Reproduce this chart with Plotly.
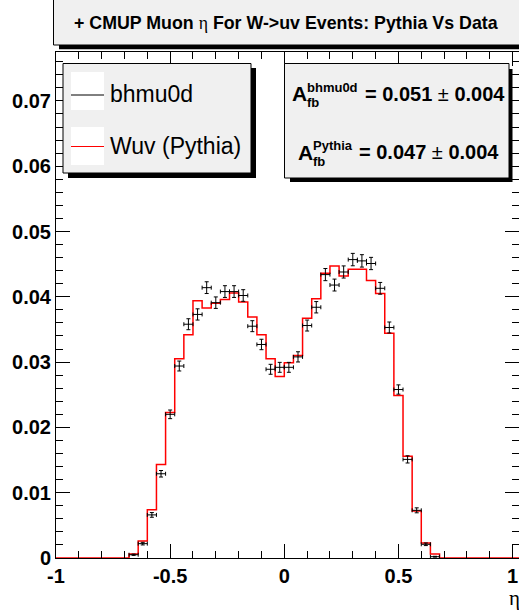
import plotly.graph_objects as go

# Muon eta bins (width 0.04), only the populated region is listed
eta_centers = [-0.66, -0.62, -0.58, -0.54, -0.50, -0.46, -0.42, -0.38, -0.34, -0.30,
               -0.26, -0.22, -0.18, -0.14, -0.10, -0.06, -0.02, 0.02, 0.06, 0.10,
               0.14, 0.18, 0.22, 0.26, 0.30, 0.34, 0.38, 0.42, 0.46, 0.50,
               0.54, 0.58, 0.62, 0.66]
bin_width = 0.04

# Data (bhmu0d), normalised
data_vals = [0.0005, 0.0022, 0.0066, 0.0129, 0.0220, 0.0294, 0.0358, 0.0373, 0.0414, 0.0391,
             0.0408, 0.0408, 0.0402, 0.0355, 0.0327, 0.0289, 0.0292, 0.0292, 0.0308, 0.0356,
             0.0384, 0.0434, 0.0418, 0.0438, 0.0457, 0.0455, 0.0451, 0.0413, 0.0353, 0.0258,
             0.0151, 0.0073, 0.0021, 0.0002]
data_errs = [0.00010, 0.00020, 0.00036, 0.00050, 0.00066, 0.00076, 0.00084, 0.00086, 0.00090, 0.00088,
             0.00090, 0.00090, 0.00089, 0.00084, 0.00080, 0.00076, 0.00076, 0.00076, 0.00078, 0.00084,
             0.00087, 0.00093, 0.00091, 0.00093, 0.00095, 0.00095, 0.00094, 0.00090, 0.00084, 0.00071,
             0.00055, 0.00038, 0.00020, 0.00006]

# W -> mu nu Pythia MC, normalised
mc_vals = [0.0006, 0.0026, 0.0074, 0.0143, 0.0223, 0.0305, 0.0342, 0.0394, 0.0383, 0.0390,
           0.0396, 0.0406, 0.0392, 0.0369, 0.0342, 0.0305, 0.0278, 0.0299, 0.0310, 0.0367,
           0.0397, 0.0436, 0.0447, 0.0432, 0.0442, 0.0442, 0.0425, 0.0405, 0.0344, 0.0249,
           0.0156, 0.0072, 0.0023, 0.0006]

x_ticks = [-1, -0.5, 0, 0.5, 1]
x_ticklabels = ["-1", "-0.5", "0", "0.5", "1"]
y_ticks = [0, 0.01, 0.02, 0.03, 0.04, 0.05, 0.06, 0.07]
y_ticklabels = ["0", "0.01", "0.02", "0.03", "0.04", "0.05", "0.06", "0.07"]

title_text = ("<b>+ CMUP Muon </b><span style=\"font-family:'Liberation Serif'\">\u03b7</span>"
              "<b> For W-&gt;uv Events: Pythia Vs Data</b>")
legend_labels = ["bhmu0d", "Wuv (Pythia)"]
afb_rows = [("bhmu0d", "0.051", "0.004"), ("Pythia", "0.047", "0.004")]

MC_COLOR = "#ff0000"
DATA_COLOR = "#000000"
PANEL = "#f0f0f0"
FONT = "Liberation Sans"

W, H = 519, 611
ML, MR, MT, MB = 56, 0, 52, 53
PW, PH = W - ML - MR, H - MT - MB
X_MIN = -1.0
X_PER_UNIT = 228.3
Y_PER_UNIT = 6530.0
x_range = [X_MIN, X_MIN + PW / X_PER_UNIT]
y_range = [0, PH / Y_PER_UNIT]


def px(x):
    return (x - ML) / PW


def py(y):
    return (H - MB - y) / PH


# Step outline for the MC histogram, extended with empty bins across the axis
step_x = [X_MIN] + [c - bin_width / 2 for c in eta_centers] + [eta_centers[-1] + bin_width / 2, 1.04]
step_y = [0] + mc_vals + [0, 0]

fig = go.Figure()
fig.add_trace(go.Scatter(
    x=step_x, y=step_y, mode="lines", line=dict(color=MC_COLOR, width=1.5, shape="hv"),
    name=legend_labels[1], showlegend=False, hoverinfo="skip"))
fig.add_trace(go.Scatter(
    x=eta_centers, y=data_vals, mode="markers",
    marker=dict(color=DATA_COLOR, size=1),
    error_y=dict(type="data", array=data_errs, color=DATA_COLOR, thickness=1, width=2),
    error_x=dict(type="constant", value=bin_width / 2, color=DATA_COLOR, thickness=1, width=2),
    name=legend_labels[0], showlegend=False))
# Empty trace so the right-hand tick axis gets drawn
fig.add_trace(go.Scatter(x=[], y=[], yaxis="y2", showlegend=False, hoverinfo="skip"))

shapes = []
annotations = []

# Title pave with shadow
shapes.append(dict(type="rect", xref="paper", yref="paper", x0=px(59), x1=px(530), y0=py(49.3), y1=py(40),
                   fillcolor="black", line=dict(width=0), layer="above"))
shapes.append(dict(type="rect", xref="paper", yref="paper", x0=px(53.5), x1=px(530), y0=py(45), y1=py(-2),
                   fillcolor=PANEL, line=dict(color="black", width=1), layer="above"))
annotations.append(dict(xref="paper", yref="paper", x=px(285.5), y=py(23.5), text=title_text, showarrow=False,
                        xanchor="center", yanchor="middle",
                        font=dict(family=FONT, size=17.8, color="black")))

# Legend pave
shapes.append(dict(type="rect", xref="paper", yref="paper", x0=px(68), x1=px(256), y0=py(178), y1=py(68),
                   fillcolor="black", line=dict(width=0), layer="above"))
shapes.append(dict(type="rect", xref="paper", yref="paper", x0=px(63), x1=px(251), y0=py(173), y1=py(63.5),
                   fillcolor=PANEL, line=dict(color="black", width=1), layer="above"))
for i, (label, col) in enumerate(zip(legend_labels, [DATA_COLOR, MC_COLOR])):
    top = 72 + i * 55
    mid = 95 + i * 51.5
    shapes.append(dict(type="rect", xref="paper", yref="paper", x0=px(71), x1=px(104), y0=py(top + 38), y1=py(top),
                       fillcolor="white", line=dict(width=0), layer="above"))
    shapes.append(dict(type="line", xref="paper", yref="paper", x0=px(71), x1=px(104), y0=py(mid), y1=py(mid),
                       line=dict(color=col, width=1), layer="above"))
    annotations.append(dict(xref="paper", yref="paper", x=px(108), y=py(mid - 1), text=label, showarrow=False,
                            xanchor="left", yanchor="middle",
                            font=dict(family=FONT, size=23, color="black")))

# Forward-backward asymmetry pave
shapes.append(dict(type="rect", xref="paper", yref="paper", x0=px(290), x1=px(512.5), y0=py(182), y1=py(69),
                   fillcolor="black", line=dict(width=0), layer="above"))
shapes.append(dict(type="rect", xref="paper", yref="paper", x0=px(284.5), x1=px(509), y0=py(178), y1=py(63.5),
                   fillcolor=PANEL, line=dict(color="black", width=1), layer="above"))
row_geom = [(290, 94, 363), (296, 152, 357)]
for (sup, val, err), (ax, ay, vx) in zip(afb_rows, row_geom):
    annotations.append(dict(xref="paper", yref="paper", x=px(ax), y=py(ay), text="<b>A</b>", showarrow=False,
                            xanchor="left", yanchor="middle", font=dict(family=FONT, size=21, color="black")))
    annotations.append(dict(xref="paper", yref="paper", x=px(ax + 15), y=py(ay - 7), text="<b>%s</b>" % sup,
                            showarrow=False, xanchor="left", yanchor="middle",
                            font=dict(family=FONT, size=13, color="black")))
    annotations.append(dict(xref="paper", yref="paper", x=px(ax + 15), y=py(ay + 9), text="<b>fb</b>",
                            showarrow=False, xanchor="left", yanchor="middle",
                            font=dict(family=FONT, size=13, color="black")))
    annotations.append(dict(xref="paper", yref="paper", x=px(vx), y=py(ay), showarrow=False,
                            text="<b>= %s </b>\u00b1<b> %s</b>" % (val, err),
                            xanchor="left", yanchor="middle", font=dict(family=FONT, size=20, color="black")))

# Axis title
annotations.append(dict(xref="paper", yref="paper", x=px(507), y=py(598), text="\u03b7", showarrow=False,
                        xanchor="left", yanchor="middle",
                        font=dict(family="Liberation Serif", size=21, color="black")))

tick_common = dict(showgrid=False, zeroline=False, ticks="inside", ticklen=14, tickcolor="black", tickwidth=1,
                   tickfont=dict(family=FONT, size=20, color="black", weight="bold"))
y_minor = dict(dtick=0.002, tick0=0, ticks="inside", ticklen=7, tickcolor="black", tickwidth=1)

fig.update_layout(
    width=W, height=H, margin=dict(l=ML, r=MR, t=MT, b=MB),
    paper_bgcolor="white", plot_bgcolor="white", showlegend=False,
    xaxis=dict(range=x_range, tickmode="array", tickvals=x_ticks, ticktext=x_ticklabels,
               showline=True, linecolor="black", linewidth=1, mirror="ticks",
               minor=dict(dtick=0.1, tick0=0, ticks="inside", ticklen=7, tickcolor="black", tickwidth=1),
               **tick_common),
    yaxis=dict(range=y_range, tickmode="array", tickvals=y_ticks, ticktext=y_ticklabels,
               showline=True, linecolor="black", linewidth=1, mirror=False,
               minor=y_minor, **tick_common),
    yaxis2=dict(range=y_range, overlaying="y", side="right", anchor="x", tickmode="array",
                tickvals=y_ticks, showticklabels=False, showline=False, minor=y_minor, **tick_common),
    shapes=shapes, annotations=annotations,
)

fig.write_html("out.html")
